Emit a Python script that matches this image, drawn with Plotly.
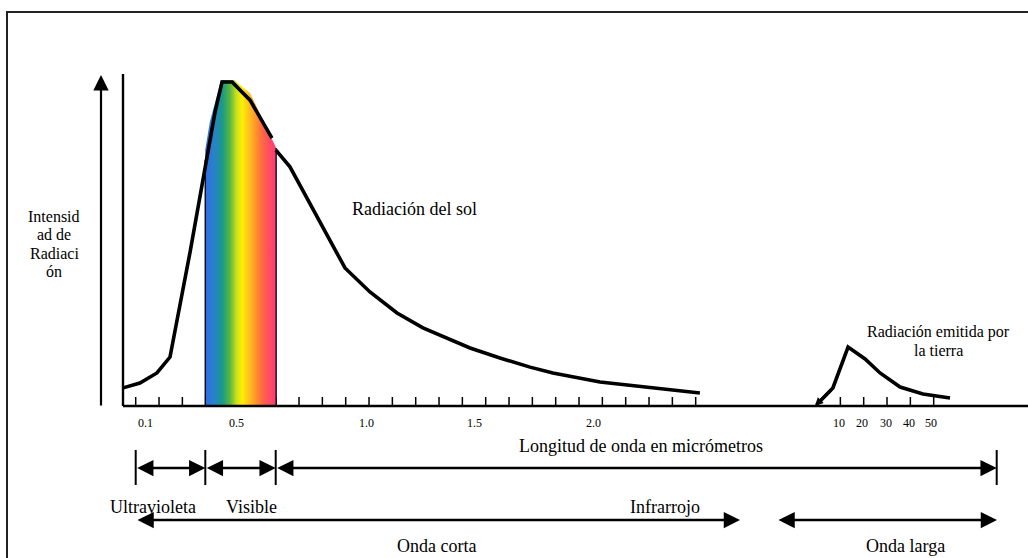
import plotly.graph_objects as go

# ---------------- data (x: tick units along the wavelength axis, y: relative intensity, peak = 100)
sun_x_a = [-0.54, 0.18, 0.91, 1.47, 2.33, 2.97, 3.40, 3.70, 4.13, 4.90, 5.33, 5.84]
sun_y_a = [5.6, 7.1, 10.2, 15.1, 47.5, 73.5, 90.7, 100.0, 100.0, 94.4, 88.9, 82.7]
sun_x_b = [6.01, 6.61, 8.97, 10.04, 11.20, 12.31, 14.33, 15.61, 16.90, 17.88, 19.90, 22.04, 24.18]
sun_y_b = [79.0, 73.8, 42.6, 35.2, 28.7, 24.1, 17.9, 14.8, 12.0, 10.2, 7.4, 5.6, 4.0]
earth_x = [29.88, 30.53, 31.26, 31.90, 32.76, 33.74, 34.90]
earth_y = [5.56, 18.2, 14.5, 10.2, 5.86, 3.70, 2.47]
earth_start_x = 29.11
earth_start_y = 0.0
visible_x = [2.98, 3.18, 3.66, 4.21, 4.90, 5.41, 6.02]
visible_y = [79.0, 87.7, 100.6, 100.6, 96.6, 88.9, 79.6]
short_ticks = list(range(25))
long_ticks = [30.2, 31.2, 32.2, 33.2, 34.2]
tick_labels = ["0.1", "0.5", "1.0", "1.5", "2.0", "10", "20", "30", "40", "50"]
tick_label_x = [0.44, 4.30, 9.91, 14.54, 19.60, 30.14, 31.12, 32.15, 33.14, 34.09]
spectrum_colors = [[0.0, "#2F6CE4"], [0.12, "#2A80CC"], [0.24, "#18998A"], [0.35, "#5CB83C"],
                   [0.44, "#C8E020"], [0.52, "#FFF000"], [0.62, "#FFC020"], [0.70, "#FF9A28"],
                   [0.80, "#FF6A40"], [0.90, "#FF4C62"], [1.0, "#FF3A7C"]]

# ---------------- layout helpers (page position -> axis units)
W, H = 1028, 558
UX, X0 = 23.333, 135.7   # px per tick unit, px of tick 0
UY, Y0 = 3.24, 406.0     # px per intensity unit, px of baseline


def X(px):
    return (px - X0) / UX


def Y(py):
    return (Y0 - py) / UY


FONT = "Liberation Serif, Times New Roman, serif"
fig = go.Figure()


def seg(xs, ys, width, color="black"):
    fig.add_trace(go.Scatter(x=xs, y=ys, mode="lines", hoverinfo="skip",
                             line=dict(color=color, width=width), showlegend=False))


# frame
seg([X(7), X(7), X(W + 5)], [Y(H + 5), Y(12), Y(12)], 2, "#222")

# ticks
tx, ty = [], []
for t in short_ticks + long_ticks:
    tx += [t, t, None]
    ty += [0, 9 / UY, None]
seg(tx, ty, 1.5)

# visible spectrum
fig.add_trace(go.Scatter(x=[visible_x[0]] + visible_x + [visible_x[-1]],
                         y=[0] + visible_y + [0], mode="lines", fill="toself",
                         line=dict(width=0), hoverinfo="skip", showlegend=False,
                         fillgradient=dict(type="horizontal", colorscale=spectrum_colors)))
seg([visible_x[0], visible_x[0]], [0, visible_y[0] - 3], 1.3)
seg([visible_x[-1], visible_x[-1]], [0, visible_y[-1]], 1.3)

# axes
seg([X(123), X(W + 5)], [0, 0], 2.6)
seg([X(123), X(123)], [0, Y(74)], 2.4)

# curves
seg(sun_x_a, sun_y_a, 3.6)
seg(sun_x_b, sun_y_b, 3.6)
seg([earth_start_x + 0.25] + earth_x, [earth_start_y + 1.7] + earth_y, 3.6)

ann = []


def arrow(x1, y1, x2, y2, width, size, both=False, head=2):
    d = dict(x=x2, y=y2, ax=x1, ay=y1, xref="x", yref="y", axref="x", ayref="y",
             text="", showarrow=True, arrowhead=head, arrowsize=size, arrowwidth=width,
             arrowcolor="black", standoff=0, startstandoff=0)
    if both:
        d.update(arrowside="end+start", startarrowhead=head, startarrowsize=size)
    ann.append(d)


def text(x, y, s, size, xanchor="center"):
    ann.append(dict(x=x, y=y, xref="x", yref="y", text=s, showarrow=False,
                    xanchor=xanchor, yanchor="middle",
                    font=dict(family=FONT, size=size, color="black")))


# intensity arrow
arrow(X(101), Y(407), X(101), Y(75), 2.2, 1.4)
# earth start arrowhead
arrow(earth_x[0], earth_y[0], earth_start_x, earth_start_y, 3, 0.55)

# bottom bars and arrows
bars = [135.7, 205.3, 275.7, 996.7]
bx, by = [], []
for b in bars:
    bx += [X(b), X(b), None]
    by += [Y(450), Y(485), None]
seg(bx, by, 2)
for a, b in zip(bars[:-1], bars[1:]):
    arrow(X(a), Y(468), X(b), Y(468), 2.5, 1.3, both=True)
arrow(X(136), Y(520), X(740), Y(520), 2.5, 1.3, both=True)
arrow(X(777), Y(520), X(997), Y(520), 2.5, 1.3, both=True)

# tick labels
for lx, lt in zip(tick_label_x, tick_labels):
    text(lx, Y(423), lt, 12)

# texts
text(X(641), Y(446), "Longitud de onda en micrómetros", 18)
text(X(350), Y(209), "Radiación del sol", 18, "left")
text(X(938), Y(332), "Radiación emitida por", 16)
text(X(938), Y(350), "la tierra", 16)
for i, s in enumerate(["Intensid", "ad de", "Radiaci", "ón"]):
    text(X(54), Y(216 + 18.6 * i), s, 16)
text(X(153), Y(507), "Ultravioleta", 18)
text(X(251), Y(507), "Visible", 18)
text(X(665), Y(507), "Infrarrojo", 18)
text(X(436), Y(546), "Onda corta", 18)
text(X(905), Y(546), "Onda larga", 18)

fig.update_layout(
    width=W, height=H, margin=dict(l=0, r=0, t=0, b=0),
    paper_bgcolor="white", plot_bgcolor="white", showlegend=False,
    xaxis=dict(range=[X(0), X(W)], visible=False, fixedrange=True),
    yaxis=dict(range=[Y(H), Y(0)], visible=False, fixedrange=True),
    annotations=ann,
)

fig.write_html("out.html", config={"displayModeBar": False},
               post_script="document.body.style.margin='0';document.body.style.overflow='hidden';")
